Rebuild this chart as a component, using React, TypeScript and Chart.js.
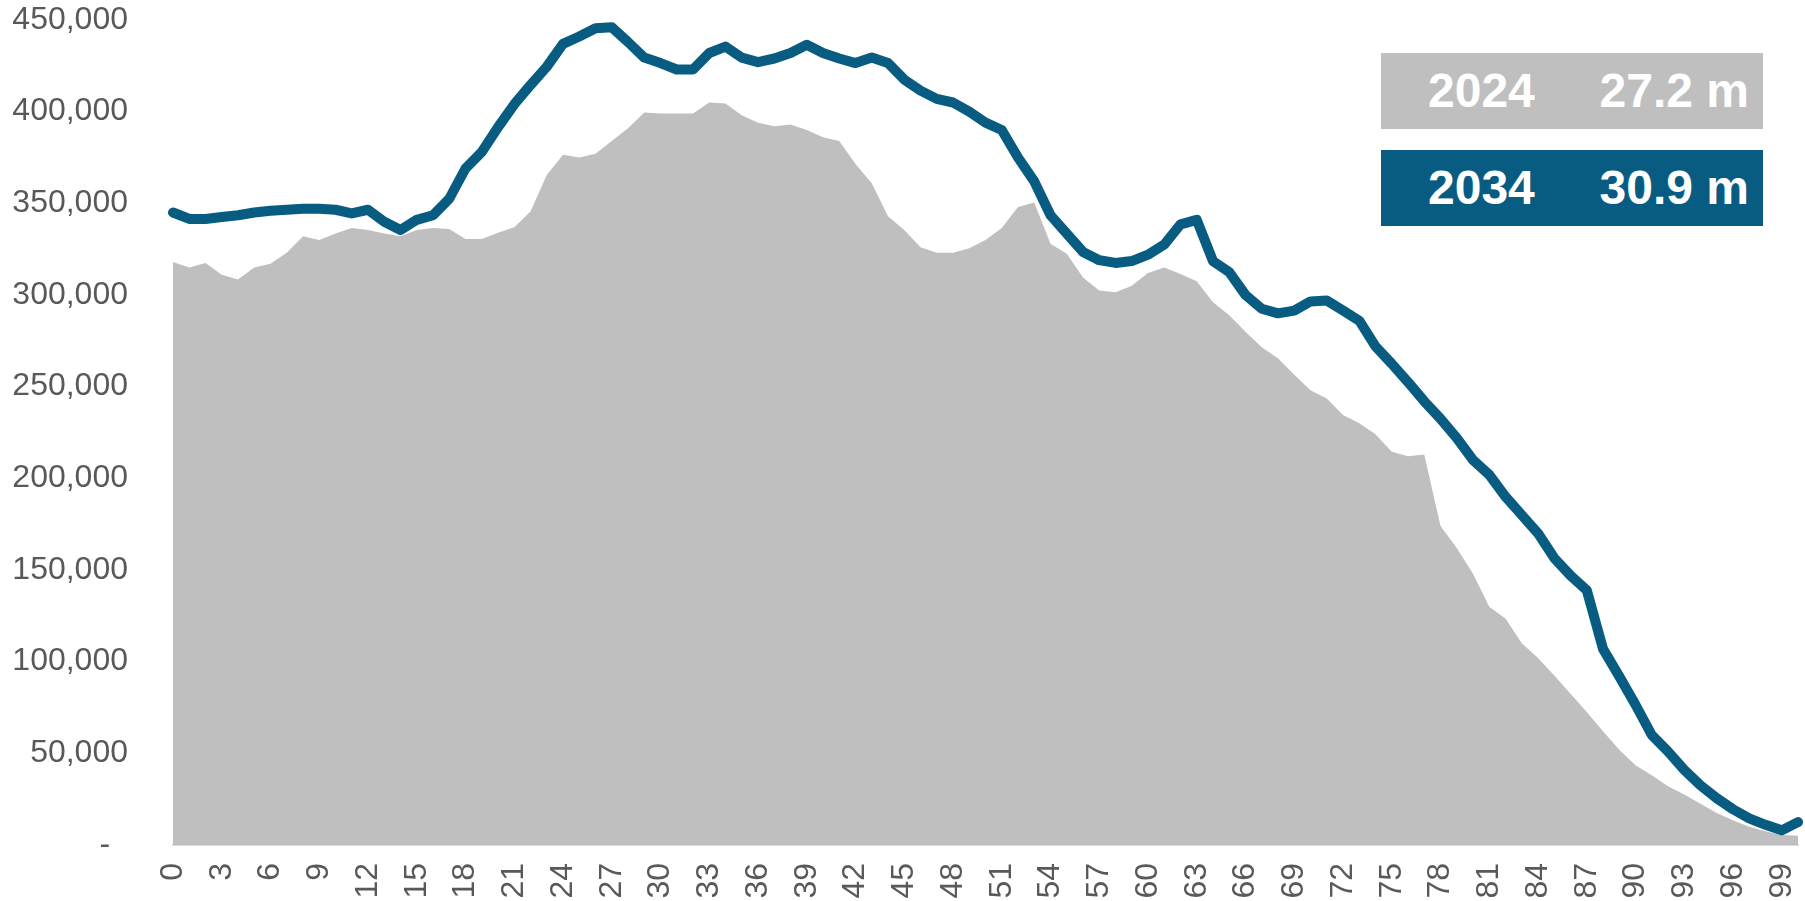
import React, { useEffect, useRef } from "react";
import { Chart, registerables } from "chart.js";

Chart.register(...registerables);

const ages: string[] = Array.from({ length: 101 }, (_, i) => String(i));

const pop2024: number[] = [
  318000, 315000, 317500, 311000, 308500, 315000, 317000, 323000, 332000, 330000,
  333500, 336500, 335500, 333500, 332000, 335500, 336500, 336000, 330500, 330500,
  334000, 337000, 345500, 365500, 376500, 375000, 377000, 384000, 391000, 399500,
  399000, 399000, 399000, 405000, 404500, 398000, 394000, 392000, 393000, 390000,
  386000, 384000, 371500, 361000, 343000, 335500, 326000, 323000, 323000, 325500,
  330000, 336500, 348000, 350500, 328000, 322500, 309500, 302500, 301500, 305000,
  312000, 315000, 311500, 307500, 296000, 289000, 280000, 271500, 265500, 256500,
  248000, 243500, 234500, 230000, 224000, 214500, 212000, 213000, 174000, 162000,
  148000, 130000, 123500, 110000, 102000, 92500, 82500, 72500, 62000, 52000,
  43500, 38000, 32000, 27500, 22500, 17500, 13500, 10000, 7500, 5500,
  5000,
];

const pop2034: number[] = [
  345000, 341500, 341500, 342500, 343500, 345000, 346000, 346500, 347000, 347000,
  346500, 344500, 346500, 340000, 335500, 341000, 343500, 352500, 369000, 378000,
  391500, 404000, 414500, 424500, 437000, 441000, 445500, 446000, 438000, 429500,
  426500, 423000, 423000, 432000, 435500, 429500, 427000, 429000, 432000, 436500,
  432000, 429000, 426500, 429500, 426500, 417500, 411500, 407000, 405000, 400000,
  394000, 390000, 375000, 362000, 343500, 333500, 323500, 319000, 317500, 318500,
  322000, 327500, 338500, 341000, 318500, 312500, 300000, 292500, 290000, 291500,
  296500, 297000, 291500, 286000, 272000, 262500, 252500, 242000, 232500, 222000,
  210000, 202000, 190000, 180000, 170000, 156500, 147000, 139000, 107000, 92000,
  76500, 60000, 51000, 41000, 32500, 25500, 19500, 14500, 11000, 8000,
  12500,
];

const legendRows = [
  { year: "2024", total: "27.2 m", color: "#BFBFBF" },
  { year: "2034", total: "30.9 m", color: "#085C82" },
];

const FONT = "'Liberation Sans', Arial, sans-serif";

export default function App() {
  const canvasRef = useRef<HTMLCanvasElement | null>(null);

  useEffect(() => {
    if (!canvasRef.current) return;
    const chart = new Chart(canvasRef.current, {
      type: "line",
      data: {
        labels: ages,
        datasets: [
          {
            label: "2034",
            data: pop2034,
            borderColor: "#085C82",
            borderWidth: 10,
            borderJoinStyle: "round",
            borderCapStyle: "round",
            pointRadius: 0,
            fill: false,
            tension: 0,
            order: 0,
          },
          {
            label: "2024",
            data: pop2024,
            borderWidth: 0,
            backgroundColor: "#BFBFBF",
            pointRadius: 0,
            fill: "origin",
            tension: 0,
            order: 1,
          },
        ],
      },
      options: {
        animation: false,
        responsive: false,
        maintainAspectRatio: false,
        layout: { padding: { top: 20, right: 7, left: 0, bottom: 0 } },
        plugins: {
          legend: { display: false },
          tooltip: { enabled: false },
        },
        scales: {
          x: {
            type: "category",
            grid: { display: false, drawTicks: false },
            border: { display: true, color: "#D9D9D9", width: 2 },
            ticks: {
              autoSkip: false,
              minRotation: 90,
              maxRotation: 90,
              padding: 18,
              color: "#595959",
              font: { family: FONT, size: 32 },
              callback: (_v: any, idx: number) => (idx % 3 === 0 ? ages[idx] : ""),
            },
            afterFit: (scale: any) => {
              scale.height = 56;
              scale.paddingLeft = 0;
              scale.paddingRight = 0;
            },
          },
          y: {
            min: 0,
            max: 450000,
            grid: { display: false, drawTicks: false },
            border: { display: false },
            ticks: {
              stepSize: 50000,
              padding: 45,
              color: "#595959",
              font: { family: FONT, size: 32 },
              callback: (v: any) => (Number(v) === 0 ? "-  " : Number(v).toLocaleString("en-US")),
            },
            afterFit: (scale: any) => {
              scale.width = 173;
              scale.paddingTop = 0;
              scale.paddingBottom = 0;
            },
          },
        },
      },
    });
    return () => chart.destroy();
  }, []);

  return (
    <div style={{ position: "absolute", left: 0, top: 0, width: 1805, height: 901, background: "#fff" }}>
      <canvas ref={canvasRef} width={1805} height={901} style={{ display: "block", width: 1805, height: 901 }} />
      {legendRows.map((r, i) => (
        <div
          key={r.year}
          style={{
            position: "absolute",
            left: 1381,
            top: i === 0 ? 53 : 150,
            width: 382,
            height: 76,
            background: r.color,
            color: "#fff",
            fontFamily: FONT,
            fontWeight: "bold",
            fontSize: 48,
            display: "flex",
            alignItems: "center",
            boxSizing: "border-box",
            paddingLeft: 47,
            paddingRight: 14,
            lineHeight: 1,
          }}
        >
          <span>{r.year}</span>
          <span style={{ marginLeft: "auto" }}>{r.total}</span>
        </div>
      ))}
    </div>
  );
}
